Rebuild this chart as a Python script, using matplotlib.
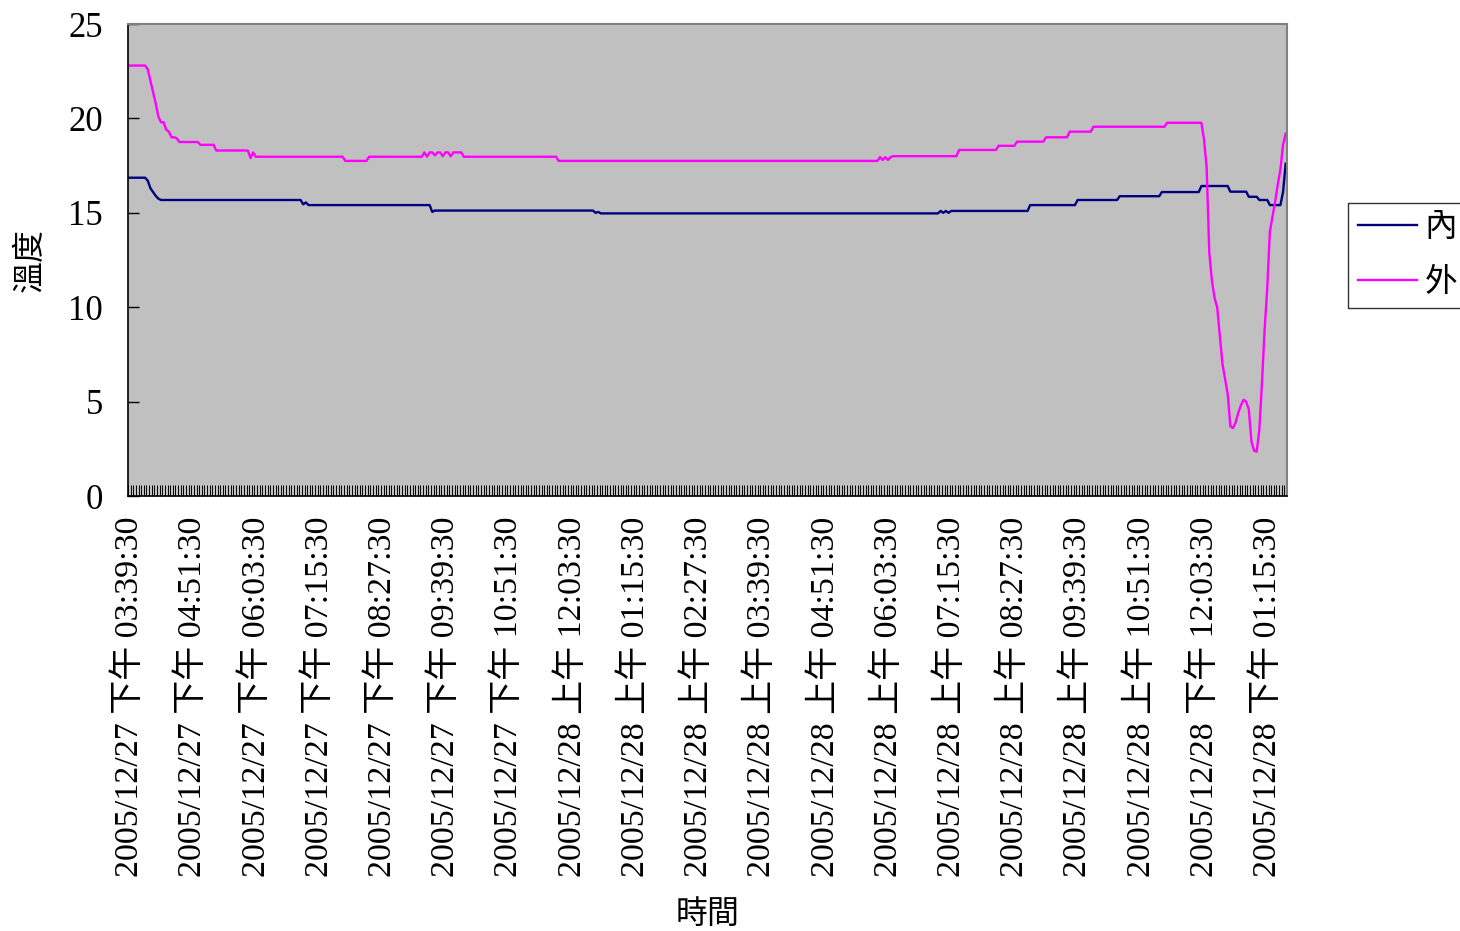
import numpy as np
import matplotlib
matplotlib.use('Agg')
import matplotlib.pyplot as plt

# 每 3 分鐘一筆, 共 440 筆 (以 值/筆數 記錄)
outer_vals = [22.8, 22.6, 22.0, 21.4, 20.8, 20.1, 19.8, 19.4, 19.3, 19.0, 18.95,
              18.75, 18.6, 18.3, 17.9, 18.2, 17.97, 17.75, 17.97,
              18.2, 17.98, 18.2, 18.05, 18.2, 18.0, 18.2, 18.0, 18.2,
              17.97, 17.75, 17.95, 17.8, 17.95, 17.8, 17.95,
              18.0, 18.33, 18.55, 18.77, 19.0, 19.3, 19.56, 19.77,
              18.9, 17.4, 12.9, 11.4, 10.5, 10.0, 8.5, 7.0, 6.2, 5.4, 3.7, 3.6,
              3.9, 4.4, 4.8, 5.1, 5.0, 4.6, 2.9, 2.4, 2.35, 3.5, 6.0, 8.8, 11.0,
              14.0, 14.8, 15.6, 16.5, 17.3, 18.6, 19.2]
outer_cnts = [7, 1, 1, 1, 1, 1, 2, 1, 1, 2, 1,
              8, 6, 13, 1, 1, 34, 9, 21,
              1, 1, 2, 1, 2, 1, 2, 1, 4,
              36, 122, 1, 1, 1, 1, 1,
              25, 15, 7, 11, 9, 9, 28, 14,
              1, 1, 1, 1, 1, 1, 1, 1, 1, 1, 1, 1,
              1, 1, 1, 1, 1, 1, 1, 1, 1, 1, 1, 1, 1,
              1, 1, 1, 1, 1, 1, 1]

inner_vals = [16.86, 16.7, 16.3, 16.1, 15.9, 15.75, 15.68, 15.45, 15.55, 15.41,
              15.05, 15.12, 15.0, 15.05, 14.97, 15.1, 15.0, 15.1, 15.0,
              15.1, 15.41, 15.68, 15.88, 16.1, 16.42, 16.12, 15.85, 15.68,
              15.41, 16.1, 17.6]
inner_cnts = [7, 1, 1, 1, 1, 1, 54, 1, 1, 47,
              1, 61, 1, 1, 129, 1, 1, 1, 1,
              30, 18, 16, 16, 15, 11, 7, 4, 4,
              5, 1, 1]

tick_labels = ['2005/12/27 下午 03:39:30', '2005/12/27 下午 04:51:30',
               '2005/12/27 下午 06:03:30', '2005/12/27 下午 07:15:30',
               '2005/12/27 下午 08:27:30', '2005/12/27 下午 09:39:30',
               '2005/12/27 下午 10:51:30', '2005/12/28 上午 12:03:30',
               '2005/12/28 上午 01:15:30', '2005/12/28 上午 02:27:30',
               '2005/12/28 上午 03:39:30', '2005/12/28 上午 04:51:30',
               '2005/12/28 上午 06:03:30', '2005/12/28 上午 07:15:30',
               '2005/12/28 上午 08:27:30', '2005/12/28 上午 09:39:30',
               '2005/12/28 上午 10:51:30', '2005/12/28 下午 12:03:30',
               '2005/12/28 下午 01:15:30']
label_step = 24

outer = np.repeat(outer_vals, outer_cnts)
inner = np.repeat(inner_vals, inner_cnts)
n = len(inner)
x = np.arange(n)

plt.rcParams['font.family'] = ['Liberation Serif', 'Noto Sans CJK TC']

fig = plt.figure(figsize=(14.6, 9.31), dpi=100)
ax = fig.add_axes([0.0877, 0.4672, 0.7938, 0.507])
ax.set_facecolor('#C0C0C0')

ax.plot(x, inner, color='#000080', lw=1.7, label='內')
ax.plot(x, outer, color='#FF00FF', lw=1.7, label='外')

ax.set_xlim(-0.5, n - 0.5)
ax.set_ylim(0, 25)
ax.set_yticks(range(0, 26, 5))

ax.set_xticks(np.arange(0, n, label_step)[:len(tick_labels)])
ax.set_xticklabels(tick_labels, rotation=90)
ax.set_xticks(np.arange(n + 1) - 0.5, minor=True)
ax.tick_params(axis='x', which='major', length=0, pad=15, labelsize=24.5)
ax.tick_params(axis='x', which='minor', direction='in', length=8, width=0.7, color='black')
ax.tick_params(axis='y', direction='in', length=8, width=1, pad=18, labelsize=25)

for s in ['left', 'bottom']:
    ax.spines[s].set_color('black')
    ax.spines[s].set_linewidth(1.2)
for s in ['top', 'right']:
    ax.spines[s].set_color('#808080')
    ax.spines[s].set_linewidth(1.5)

ax.set_ylabel('溫度', fontsize=23, labelpad=16)
ax.set_xlabel('時間', fontsize=23, labelpad=16)

leg = ax.legend(loc='upper left', bbox_to_anchor=(1348 / 1460, 1 - 203 / 931),
                bbox_transform=fig.transFigure, fontsize=23.5, frameon=True,
                fancybox=False, edgecolor='black', handlelength=1.8,
                handletextpad=0.25, borderpad=0.3, labelspacing=0.75,
                borderaxespad=0)
leg.get_frame().set_linewidth(1.0)

fig.savefig('out.png', dpi=100, facecolor='white')
